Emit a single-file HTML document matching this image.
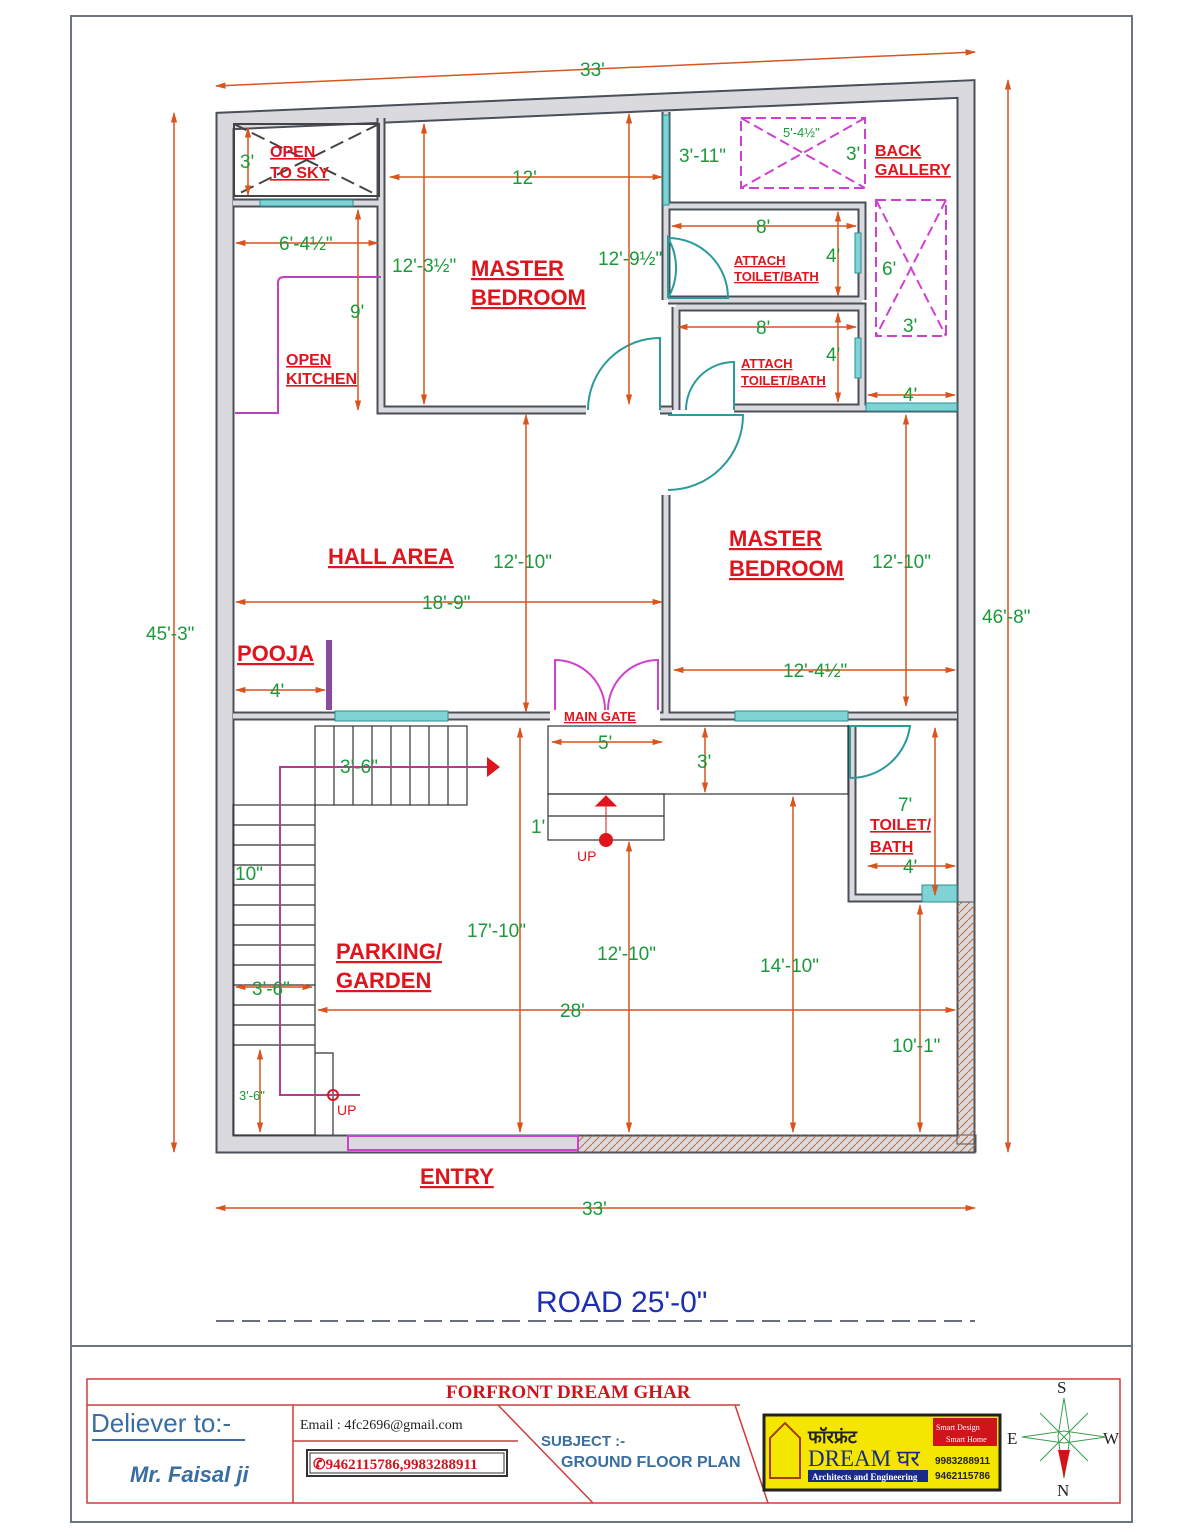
<!DOCTYPE html>
<html><head><meta charset="utf-8"><style>
html,body{margin:0;padding:0;background:#fff}
svg{display:block}
.r{font-family:"Liberation Sans",sans-serif;font-weight:bold;fill:#e0141c;text-decoration:underline}
.g{font-family:"Liberation Sans",sans-serif;fill:#1a9a3a}
</style></head><body>
<svg width="1200" height="1537" viewBox="0 0 1200 1537" xmlns="http://www.w3.org/2000/svg">
<rect x="71" y="16" width="1061" height="1506" fill="#fff" stroke="#6c7480" stroke-width="2"/>
<line x1="71" y1="1346" x2="1132" y2="1346" stroke="#6c7480" stroke-width="2"/>
<defs>
<marker id="a" viewBox="0 0 10 10" refX="9" refY="5" markerWidth="7" markerHeight="7" orient="auto-start-reverse"><path d="M0,2 L10,5 L0,8z" fill="#d9541e"/></marker>
<pattern id="h" width="8" height="8" patternUnits="userSpaceOnUse"><path d="M0,8 L8,0" stroke="#c07040" stroke-width="1"/></pattern>
</defs>
<!-- walls -->
<g fill="none" stroke-linejoin="miter">
<g stroke="#4a4f5a" stroke-width="19">
<path d="M225,121 L966,89 L966,1144 L225,1144 Z"/>
</g>
<g stroke="#d9d9de" stroke-width="15">
<path d="M225,121 L966,89 L966,1144 L225,1144 Z"/>
</g>
<g stroke="#4a4f5a" stroke-width="9">
<path d="M233,203 H381 M381,118 V410 H586 M660,410 H672 M666,112 V300 M666,495 V715 M668,206 H862 V300 M668,300 H862 M676,307 H862 V408 M676,307 V410 M734,408 H862 M862,408 H957 M233,716 H335 M448,716 H550 M660,716 H735 M848,716 H957 M852,725 V898 H957"/>
</g>
<g stroke="#d9d9de" stroke-width="5">
<path d="M233,203 H381 M381,118 V410 H586 M660,410 H672 M666,112 V300 M666,495 V715 M668,206 H862 V300 M668,300 H862 M676,307 H862 V408 M676,307 V410 M734,408 H862 M862,408 H957 M233,716 H335 M448,716 H550 M660,716 H735 M848,716 H957 M852,725 V898 H957"/>
</g>
</g>
<!-- hatch -->
<rect x="578" y="1135" width="398" height="17" fill="url(#h)" stroke="#555"/>
<rect x="957" y="902" width="18" height="242" fill="url(#h)" stroke="#555"/>
<!-- windows -->
<g fill="#7fd3d3" stroke="#2a8f95">
<rect x="260" y="200" width="93" height="6"/><rect x="335" y="711" width="113" height="10"/><rect x="735" y="711" width="113" height="10"/>
<rect x="663" y="115" width="6" height="90"/><rect x="855" y="233" width="6" height="40"/><rect x="855" y="338" width="6" height="40"/>
<rect x="866" y="403" width="91" height="8"/><rect x="922" y="885" width="35" height="17"/>
</g>
<!-- entry -->
<rect x="348" y="1136" width="230" height="14" fill="none" stroke="#d040d0" stroke-width="2"/>
<!-- doors -->
<g fill="none" stroke="#2a9a9a" stroke-width="2">
<path d="M588,410 A72,72 0 0 1 660,338 V410"/>
<path d="M668,298 A60,60 0 0 0 668,238 V298 M668,298 H728 A60,60 0 0 0 668,238"/>
<path d="M686,410 A48,48 0 0 1 734,362 V410"/>
<path d="M668,490 A75,75 0 0 0 743,415 H668"/>
<path d="M850,778 A60,60 0 0 0 910,726 H850 V778"/>
</g>
<path d="M555,710 V660 A50,50 0 0 1 605,710 M658,710 V660 A50,50 0 0 0 608,710" fill="none" stroke="#d040d0" stroke-width="2"/>
<!-- open sky boxes -->
<g fill="none" stroke="#444" stroke-width="2" stroke-dasharray="14,6">
<rect x="234" y="124" width="145" height="72" stroke-dasharray="none"/>
<path d="M234,124 L379,196 M379,124 L234,196"/>
</g>
<g fill="none" stroke="#d040d0" stroke-width="2" stroke-dasharray="10,5">
<rect x="741" y="118" width="124" height="70"/><path d="M741,118 L865,188 M865,118 L741,188"/>
<rect x="876" y="200" width="70" height="136"/><path d="M876,200 L946,336 M946,200 L876,336"/>
</g>
<!-- kitchen counter -->
<path d="M235,413 H278 V283 Q278,277 284,277 H381" fill="none" stroke="#c040c0" stroke-width="2"/>
<rect x="326" y="640" width="6" height="70" fill="#8a4aa0"/>
<!-- stairs -->
<g stroke="#333" stroke-width="1.2" fill="none">
<rect x="315" y="726" width="152" height="79"/>
<path d="M334,726V805M353,726V805M372,726V805M391,726V805M410,726V805M429,726V805M448,726V805"/>
<rect x="233" y="805" width="82" height="330"/>
<path d="M233,825H315M233,845H315M233,865H315M233,885H315M233,905H315M233,925H315M233,945H315M233,965H315M233,985H315M233,1005H315M233,1025H315M233,1045H315"/>
<path d="M315,1053H333V1135"/>
<rect x="548" y="726" width="300" height="68"/>
<rect x="548" y="794" width="116" height="46"/>
<path d="M548,816H664"/>
</g>
<path d="M490,767 H280 V1095 H360" fill="none" stroke="#b0408a" stroke-width="2"/>
<path d="M487,757 L500,767 L487,777Z" fill="#e0141c"/>
<circle cx="333" cy="1095" r="5" fill="none" stroke="#e0141c" stroke-width="2"/>
<circle cx="606" cy="840" r="7" fill="#e0141c"/><path d="M606,840V800 M596,806 L606,796 L616,806Z" stroke="#e0141c" fill="#e0141c"/>
<!-- dimension lines -->
<g stroke="#d9541e" stroke-width="1.5" marker-start="url(#a)" marker-end="url(#a)" fill="none">
<line x1="216" y1="86" x2="975" y2="52"/>
<line x1="174" y1="113" x2="174" y2="1152"/>
<line x1="1008" y1="80" x2="1008" y2="1152"/>
<line x1="216" y1="1208" x2="975" y2="1208"/>
<line x1="390" y1="177" x2="662" y2="177"/>
<line x1="424" y1="124" x2="424" y2="404"/>
<line x1="629" y1="114" x2="629" y2="404"/>
<line x1="236" y1="243" x2="378" y2="243"/>
<line x1="358" y1="210" x2="358" y2="410"/>
<line x1="248" y1="128" x2="248" y2="195"/>
<line x1="672" y1="226" x2="856" y2="226"/>
<line x1="678" y1="327" x2="856" y2="327"/>
<line x1="838" y1="212" x2="838" y2="296"/>
<line x1="838" y1="313" x2="838" y2="402"/>
<line x1="868" y1="395" x2="955" y2="395"/>
<line x1="236" y1="602" x2="662" y2="602"/>
<line x1="526" y1="415" x2="526" y2="712"/>
<line x1="674" y1="670" x2="955" y2="670"/>
<line x1="906" y1="415" x2="906" y2="706"/>
<line x1="236" y1="690" x2="325" y2="690"/>
<line x1="552" y1="742" x2="662" y2="742"/>
<line x1="705" y1="728" x2="705" y2="792"/>
<line x1="868" y1="866" x2="955" y2="866"/>
<line x1="935" y1="728" x2="935" y2="895"/>
<line x1="520" y1="728" x2="520" y2="1132"/>
<line x1="629" y1="842" x2="629" y2="1132"/>
<line x1="793" y1="797" x2="793" y2="1132"/>
<line x1="920" y1="905" x2="920" y2="1132"/>
<line x1="318" y1="1010" x2="955" y2="1010"/>
<line x1="236" y1="987" x2="312" y2="987"/>
<line x1="260" y1="1050" x2="260" y2="1132"/>
</g>
<!-- labels -->
<g class="r" font-size="22">
<text x="471" y="276">MASTER</text><text x="471" y="305">BEDROOM</text>
<text x="729" y="546">MASTER</text><text x="729" y="576">BEDROOM</text>
<text x="328" y="564">HALL  AREA</text>
<text x="237" y="661">POOJA</text>
<text x="336" y="959">PARKING/</text><text x="336" y="988">GARDEN</text>
<text x="420" y="1184">ENTRY</text>
</g>
<g class="r" font-size="16">
<text x="270" y="157">OPEN</text><text x="270" y="178">TO SKY</text>
<text x="286" y="365">OPEN</text><text x="286" y="384">KITCHEN</text>
<text x="875" y="156">BACK</text><text x="875" y="175">GALLERY</text>
<text x="870" y="830">TOILET/</text><text x="870" y="852">BATH</text>
</g>
<g class="r" font-size="13">
<text x="734" y="265">ATTACH</text><text x="734" y="281">TOILET/BATH</text>
<text x="741" y="368">ATTACH</text><text x="741" y="385">TOILET/BATH</text>
<text x="564" y="721">MAIN GATE</text>
</g>
<g class="g" font-size="19">
<text x="580" y="76">33'</text><text x="582" y="1215">33'</text>
<text x="146" y="640">45'-3"</text><text x="982" y="623">46'-8"</text>
<text x="512" y="184">12'</text>
<text x="392" y="272">12'-3½"</text><text x="598" y="265">12'-9½"</text>
<text x="279" y="250">6'-4½"</text><text x="350" y="318">9'</text><text x="240" y="168">3'</text>
<text x="679" y="162">3'-11"</text><text x="846" y="160">3'</text>
<text x="756" y="233">8'</text><text x="756" y="334">8'</text>
<text x="826" y="262">4'</text><text x="826" y="361">4'</text>
<text x="882" y="275">6'</text><text x="903" y="332">3'</text><text x="903" y="401">4'</text>
<text x="422" y="609">18'-9"</text><text x="493" y="568">12'-10"</text>
<text x="872" y="568">12'-10"</text><text x="783" y="677">12'-4½"</text>
<text x="270" y="697">4'</text>
<text x="340" y="773">3'-6"</text><text x="598" y="749">5'</text><text x="697" y="768">3'</text>
<text x="531" y="833">1'</text><text x="898" y="811">7'</text><text x="903" y="873">4'</text>
<text x="235" y="880">10"</text><text x="467" y="937">17'-10"</text>
<text x="597" y="960">12'-10"</text><text x="760" y="972">14'-10"</text>
<text x="252" y="995">3'-6"</text><text x="560" y="1017">28'</text><text x="892" y="1052">10'-1"</text>
</g>
<text x="239" y="1100" class="g" font-size="13">3'-6"</text>
<text x="783" y="137" class="g" font-size="13">5'-4½"</text>
<text x="577" y="861" font-family="Liberation Sans,sans-serif" font-size="14" fill="#e0141c">UP</text>
<text x="337" y="1115" font-family="Liberation Sans,sans-serif" font-size="14" fill="#e0141c">UP</text>
<!-- road -->
<text x="536" y="1312" font-family="Liberation Sans,sans-serif" font-size="30" fill="#1c2fb0">ROAD 25'-0"</text>
<line x1="216" y1="1321" x2="975" y2="1321" stroke="#6a6f80" stroke-width="2" stroke-dasharray="18,8"/>
<!-- title block -->
<g fill="none" stroke="#d03a3a" stroke-width="1.5">
<rect x="87" y="1379" width="1033" height="124"/>
<line x1="87" y1="1405" x2="740" y2="1405"/>
<line x1="293" y1="1405" x2="293" y2="1503"/>
<line x1="293" y1="1441" x2="518" y2="1441"/>
<line x1="498" y1="1405" x2="593" y2="1503"/>
<line x1="735" y1="1405" x2="768" y2="1503"/>
</g>
<text x="446" y="1398" font-family="Liberation Serif,serif" font-weight="bold" font-size="19" fill="#d0141c">FORFRONT DREAM GHAR</text>
<text x="91" y="1432" font-family="Liberation Sans,sans-serif" font-size="26" fill="#3a6ea0">Deliever to:-</text>
<line x1="92" y1="1440" x2="245" y2="1440" stroke="#3a6ea0" stroke-width="2"/>
<text x="130" y="1482" font-family="Liberation Sans,sans-serif" font-style="italic" font-weight="bold" font-size="22" fill="#3a6ea0">Mr. Faisal ji</text>
<text x="300" y="1429" font-family="Liberation Serif,serif" font-size="14" fill="#222">Email : 4fc2696@gmail.com</text>
<rect x="307" y="1450" width="200" height="26" fill="#fff" stroke="#333" stroke-width="2"/>
<rect x="310" y="1453" width="194" height="20" fill="none" stroke="#333"/>
<text x="313" y="1469" font-family="Liberation Serif,serif" font-weight="bold" font-size="15" fill="#d0141c">✆9462115786,9983288911</text>
<text x="541" y="1446" font-family="Liberation Sans,sans-serif" font-weight="bold" font-size="15" fill="#3a6ea0">SUBJECT :-</text>
<text x="561" y="1467" font-family="Liberation Sans,sans-serif" font-weight="bold" font-size="16" fill="#3a6ea0">GROUND FLOOR PLAN</text>
<rect x="764" y="1415" width="236" height="75" fill="#f5e600" stroke="#222" stroke-width="3"/>
<path d="M770,1458 V1438 L785,1423 L800,1438 V1478 H770Z" fill="none" stroke="#a04010" stroke-width="2"/>
<text x="808" y="1443" font-family="Noto Sans CJK SC,sans-serif" font-weight="bold" font-size="18" fill="#222">फॉरफ्रंट</text>
<text x="808" y="1466" font-family="Liberation Serif,serif" font-size="23" fill="#1a2a8a">DREAM घर</text>
<rect x="808" y="1470" width="120" height="12" fill="#1a2a8a"/>
<text x="812" y="1480" font-family="Liberation Serif,serif" font-weight="bold" font-size="9" fill="#fff">Architects and Engineering</text>
<rect x="933" y="1418" width="64" height="28" fill="#d0141c"/>
<text x="936" y="1430" font-family="Liberation Serif,serif" font-size="8" fill="#fff">Smart Design</text>
<text x="946" y="1442" font-family="Liberation Serif,serif" font-size="8" fill="#fff">Smart Home</text>
<text x="935" y="1464" font-family="Liberation Sans,sans-serif" font-weight="bold" font-size="10" fill="#222">9983288911</text>
<text x="935" y="1479" font-family="Liberation Sans,sans-serif" font-weight="bold" font-size="10" fill="#222">9462115786</text>
<g font-family="Liberation Serif,serif" font-size="17" fill="#222">
<text x="1057" y="1393">S</text><text x="1057" y="1496">N</text><text x="1007" y="1444">E</text><text x="1103" y="1444">W</text>
</g>
<g stroke="#3aa050" stroke-width="1" fill="none">
<path d="M1064,1398 L1070,1437 L1064,1478 L1058,1437Z M1022,1437 L1064,1431 L1106,1437 L1064,1443Z M1040,1413 L1088,1461 M1088,1413 L1040,1461"/>
</g>
<path d="M1058,1450 L1070,1450 L1064,1478Z" fill="#d0141c"/>
</svg>
</body></html>
